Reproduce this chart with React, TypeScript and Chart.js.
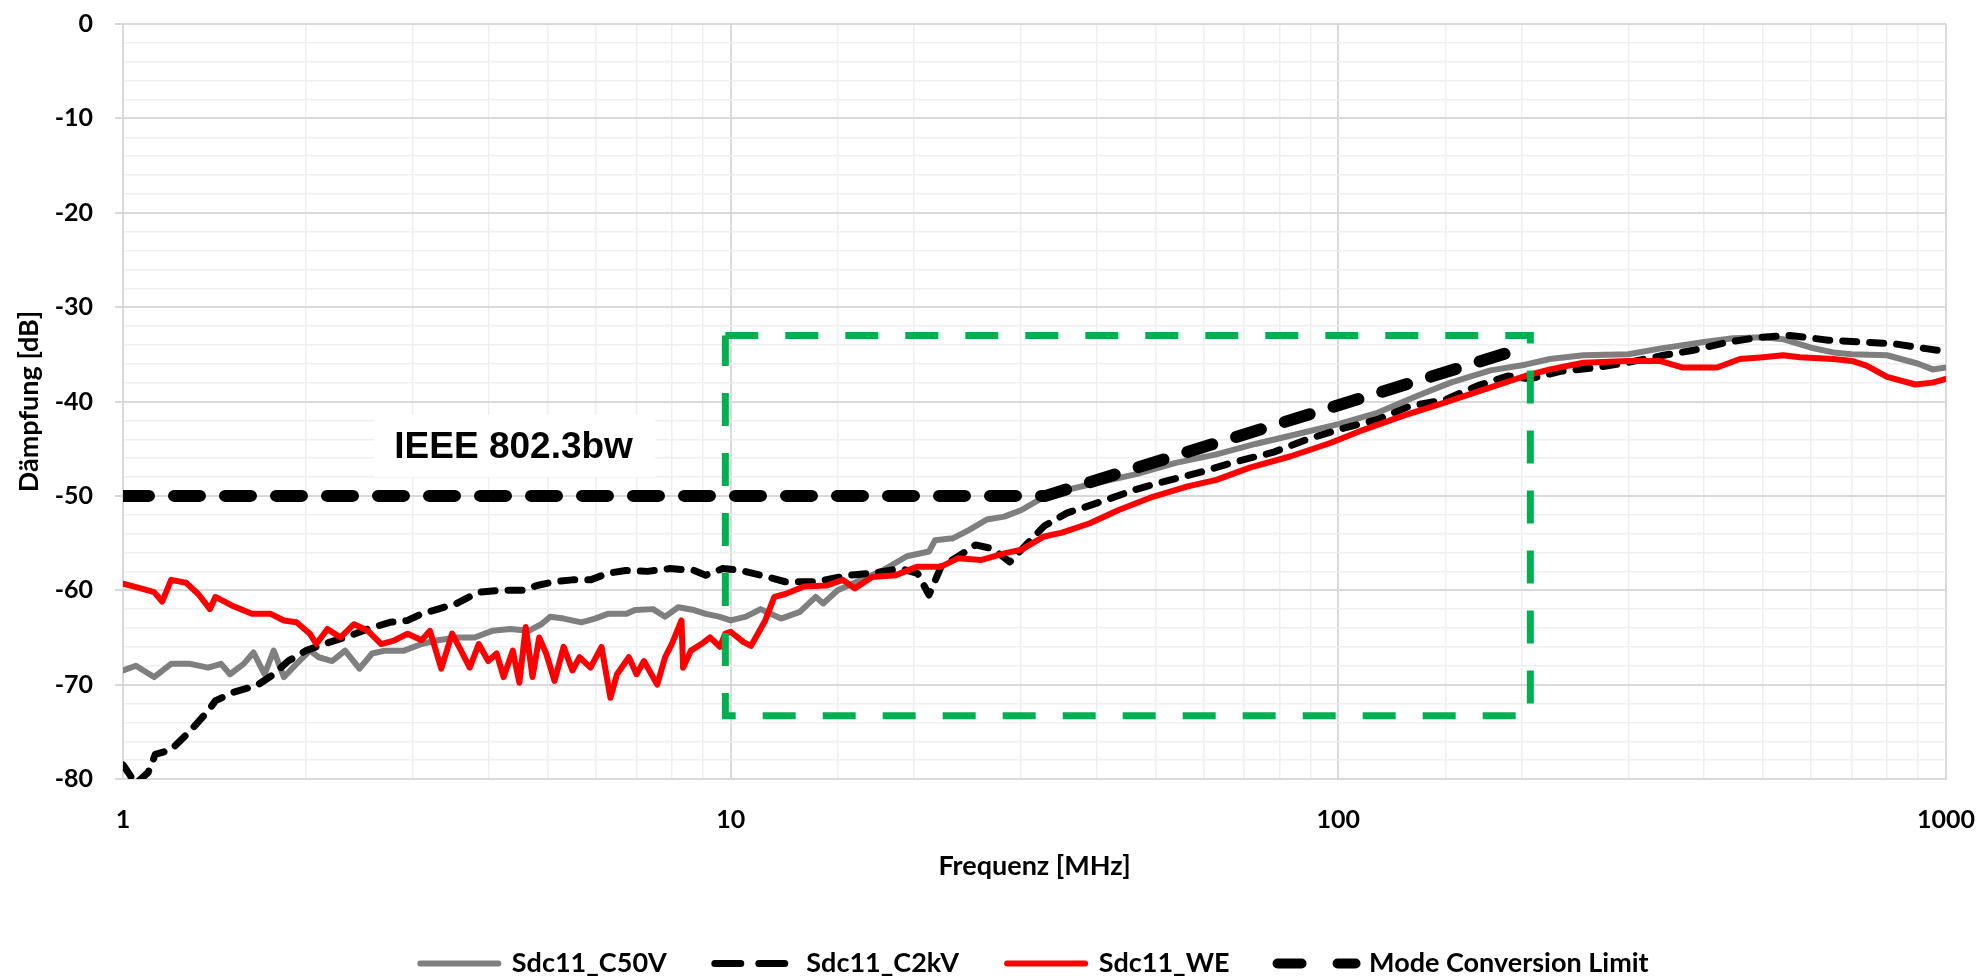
import React, { useEffect, useRef } from 'react';
import { Chart, registerables } from 'chart.js';

Chart.register(...registerables);

// ---- data (frequency in MHz, attenuation in dB) ----
const c50vFreq = [1, 1.05, 1.125, 1.2, 1.29, 1.38, 1.45, 1.5, 1.58, 1.64, 1.71, 1.77, 1.84, 1.93, 2.03, 2.1, 2.21, 2.32, 2.45, 2.57, 2.7, 2.9, 3.1, 3.3, 3.54, 3.79, 4.05, 4.34, 4.65, 4.88, 5.05, 5.31, 5.68, 5.98, 6.28, 6.74, 6.96, 7.45, 7.8, 8.2, 8.7, 9.1, 9.57, 10, 10.6, 11.2, 12.1, 13, 13.8, 14.2, 15, 16.4, 17.8, 19.5, 21.2, 21.7, 23.2, 24.7, 26.4, 28.2, 30.1, 32.8, 36.6, 40.8, 46.5, 54, 63, 73, 85, 100, 116, 135, 153, 178, 203, 223, 253, 300, 338, 400, 446, 500, 539, 600, 652, 700, 800, 900, 951, 1000];
const c50vDb = [-68.5, -68, -69.2, -67.8, -67.8, -68.2, -67.8, -68.9, -67.8, -66.6, -68.9, -66.4, -69.2, -67.8, -66.4, -67.1, -67.5, -66.4, -68.3, -66.7, -66.4, -66.4, -65.7, -65.3, -65, -65, -64.3, -64.1, -64.3, -63.6, -62.8, -63, -63.4, -63, -62.5, -62.5, -62.1, -62, -62.8, -61.8, -62.1, -62.5, -62.8, -63.2, -62.8, -62, -63, -62.3, -60.7, -61.4, -60, -58.9, -57.9, -56.4, -55.9, -54.7, -54.5, -53.6, -52.5, -52.2, -51.5, -50.1, -49.2, -48.5, -47.7, -46.5, -45.6, -44.5, -43.5, -42.4, -41.2, -39.4, -38, -36.7, -36.1, -35.5, -35.1, -35, -34.4, -33.7, -33.3, -33.2, -33.4, -34.3, -34.8, -35, -35.1, -36, -36.6, -36.4];

const c2kvFreq = [1, 1.05, 1.1, 1.13, 1.2, 1.29, 1.38, 1.42, 1.52, 1.66, 1.77, 1.87, 2.0, 2.14, 2.32, 2.53, 2.75, 2.94, 3.1, 3.3, 3.54, 3.85, 4.19, 4.56, 4.8, 5.13, 5.49, 5.88, 6.28, 6.72, 7.3, 7.95, 8.7, 9.1, 9.7, 10.4, 11.2, 12.3, 13.8, 15.7, 17.1, 19, 20.3, 21.2, 22.2, 23.7, 25.3, 27, 28.8, 30.1, 32.8, 35.8, 40.8, 46.5, 53, 60, 68.5, 78, 89, 101, 116, 131, 150, 170, 190, 207, 232, 266, 298, 343, 382, 438, 493, 553, 640, 730, 826, 927, 1000];
const c2kvDb = [-78.5, -80.5, -79.3, -77.4, -76.9, -74.9, -72.8, -71.7, -70.8, -70.1, -68.9, -67.5, -66.4, -65.7, -65, -64.1, -63.4, -63.2, -62.5, -62, -61.4, -60.2, -60, -60, -59.5, -59.1, -58.9, -58.9, -58.2, -57.9, -58, -57.7, -57.9, -58.4, -57.7, -57.9, -58.4, -59.1, -59.1, -58.4, -58.2, -57.7, -58.2, -60.5, -57.5, -56.4, -55.2, -55.6, -57, -55.7, -53.2, -51.8, -50.6, -49.3, -48.3, -47.4, -46.3, -45.4, -44, -42.9, -41.9, -40.5, -39.8, -38.3, -37.3, -37.6, -36.8, -36.4, -35.9, -35.1, -34.6, -33.7, -33.2, -33, -33.5, -33.7, -33.9, -34.4, -34.7];

const weFreq = [1, 1.07, 1.125, 1.16, 1.2, 1.27, 1.33, 1.39, 1.42, 1.52, 1.63, 1.75, 1.84, 1.93, 2.03, 2.08, 2.17, 2.28, 2.4, 2.53, 2.66, 2.8, 2.94, 3.1, 3.2, 3.34, 3.48, 3.6, 3.72, 3.85, 3.99, 4.12, 4.23, 4.38, 4.49, 4.6, 4.72, 4.84, 4.97, 5.13, 5.31, 5.49, 5.64, 5.88, 6.13, 6.34, 6.5, 6.8, 7.0, 7.2, 7.57, 7.8, 8.0, 8.3, 8.35, 8.6, 8.95, 9.25, 9.6, 9.8, 10, 10.5, 10.8, 11.4, 11.8, 12.3, 13.2, 14.4, 15.3, 16, 17.1, 18.7, 20.3, 22.2, 23.7, 25.8, 28.2, 30.1, 32.8, 35.1, 39, 43.5, 49.5, 56.5, 63, 71.5, 83.5, 97, 110, 128, 150, 178, 203, 223, 253, 300, 338, 369, 420, 458, 500, 539, 575, 652, 700, 740, 800, 890, 951, 1000];
const weDb = [-59.3, -59.8, -60.2, -61.2, -58.9, -59.2, -60.4, -62, -60.7, -61.7, -62.5, -62.5, -63.2, -63.4, -64.6, -65.7, -64.1, -65, -63.6, -64.3, -65.7, -65.3, -64.6, -65.3, -64.3, -68.3, -64.6, -66.4, -68.2, -65.7, -67.5, -66.7, -69.2, -66.4, -69.8, -63.9, -69.2, -65, -66.7, -69.6, -66, -68.5, -67.1, -68.2, -66, -71.4, -68.9, -67.1, -68.9, -67.5, -70, -67.1, -65.7, -63.2, -68.2, -66.4, -65.7, -65, -66, -64.6, -64.4, -65.5, -65.9, -63.2, -60.7, -60.4, -59.6, -59.5, -58.9, -59.8, -58.6, -58.4, -57.5, -57.5, -56.6, -56.8, -56.1, -55.7, -54.3, -53.9, -52.9, -51.5, -50.1, -49, -48.3, -47, -45.8, -44.4, -43, -41.5, -40.1, -38.5, -37.3, -36.6, -35.9, -35.7, -35.7, -36.4, -36.4, -35.5, -35.3, -35.1, -35.3, -35.5, -35.7, -36.2, -37.4, -38.2, -38, -37.6];

const limitFreq = [1, 33, 200];
const limitDb = [-50, -50, -34.4];

const boxFreq = [9.8, 207, 207, 9.8, 9.8];
const boxDb = [-33, -33, -73.3, -73.3, -33];

const xTickLabels = [1, 10, 100, 1000];
const yTickLabels = [0, -10, -20, -30, -40, -50, -60, -70, -80];

const seriesNames = ['Sdc11_C50V', 'Sdc11_C2kV', 'Sdc11_WE', 'Mode Conversion Limit'];
const legendDashes: number[][] = [[], [26, 18], [], [24, 36]];
const annotationText = 'IEEE 802.3bw';
const annotationAt = { x: 4.41, y: -44.71 };

const zip = (f: number[], d: number[]) => f.map((x, i) => ({ x, y: d[i] }));

const isDecade = (v: number) => {
  const l = Math.log10(v);
  return Math.abs(l - Math.round(l)) < 1e-6;
};

const labelPlugin = {
  id: 'ieeeLabel',
  beforeDatasetsDraw(chart: any, _args: any, opts: any) {
    const { ctx, scales } = chart;
    const cx = scales.x.getPixelForValue(opts.x);
    const cy = scales.y.getPixelForValue(opts.y);
    ctx.save();
    ctx.fillStyle = '#ffffff';
    ctx.fillRect(cx - opts.w / 2, cy - opts.h / 2, opts.w, opts.h);
    ctx.fillStyle = '#000000';
    ctx.font = opts.font;
    ctx.textAlign = 'center';
    ctx.textBaseline = 'middle';
    ctx.fillText(opts.text, cx - 1, cy + 2);
    ctx.restore();
  },
};

export default function App() {
  const ref = useRef<HTMLCanvasElement>(null);

  useEffect(() => {
    if (!ref.current) return;
    Chart.defaults.font.family = 'Lato';
    const common = { pointRadius: 0, pointHoverRadius: 0, pointHitRadius: 0, tension: 0, fill: false, clip: 0, pointStyle: 'line' as const, borderJoinStyle: 'round' as const };
    const chart = new Chart(ref.current, {
      type: 'line',
      data: {
        datasets: [
          { ...common, label: seriesNames[0], data: zip(c50vFreq, c50vDb), borderColor: '#7f7f7f', backgroundColor: '#7f7f7f', borderWidth: 6, order: 4, borderCapStyle: 'round' },
          { ...common, label: seriesNames[1], data: zip(c2kvFreq, c2kvDb), borderColor: '#000000', backgroundColor: '#000000', borderWidth: 7, borderDash: [14, 13], borderCapStyle: 'round', order: 3 },
          { ...common, label: seriesNames[2], data: zip(weFreq, weDb), borderColor: '#ff0000', backgroundColor: '#ff0000', borderWidth: 6, order: 2, borderCapStyle: 'round' },
          { ...common, label: seriesNames[3], data: zip(limitFreq, limitDb), borderColor: '#000000', backgroundColor: '#000000', borderWidth: 12, borderDash: [26, 25], borderCapStyle: 'round', order: 1 },
          { ...common, label: 'box', data: zip(boxFreq, boxDb), borderColor: '#00b050', backgroundColor: '#00b050', borderWidth: 7, borderDash: [33, 27], borderCapStyle: 'butt', borderJoinStyle: 'miter', order: 0 },
        ],
      },
      options: {
        animation: false,
        responsive: false,
        devicePixelRatio: 1,
        events: [],
        layout: { padding: { left: 0, right: 41, top: 24, bottom: -11 } },
        scales: {
          x: {
            type: 'logarithmic',
            min: 1,
            max: 1000,
            afterFit: (s: any) => { s.height = 123; s.paddingLeft = 0; s.paddingRight = 0; },
            grid: {
              drawTicks: false,
              color: (c: any) => (c.tick && isDecade(c.tick.value) ? '#d9d9d9' : '#efefef'),
              lineWidth: (c: any) => (c.tick && isDecade(c.tick.value) ? 2 : 1.5),
            },
            border: { display: true, color: '#d9d9d9', width: 2 },
            ticks: {
              autoSkip: false,
              maxRotation: 0,
              padding: 26,
              color: '#000000',
              font: { family: 'Lato', size: 25, weight: 'bold' },
              callback: (v: any) => (xTickLabels.some((t) => Math.abs(t - Number(v)) < 1e-6) ? String(Math.round(Number(v))) : ''),
            },
            title: {
              display: true,
              text: 'Frequenz [MHz]',
              color: '#000000',
              font: { family: 'Lato', size: 27, weight: 'bold' },
              padding: { top: 0, bottom: 20 },
            },
          },
          y: {
            type: 'linear',
            min: -80,
            max: 0,
            afterFit: (s: any) => { s.width = 123; s.paddingTop = 0; s.paddingBottom = 0; },
            grid: {
              drawTicks: true,
              tickLength: 8,
              color: (c: any) => (c.tick && Math.round(c.tick.value) % 10 === 0 ? '#d9d9d9' : '#efefef'),
              tickColor: (c: any) => (c.tick && Math.round(c.tick.value) % 10 === 0 ? '#d9d9d9' : 'rgba(0,0,0,0)'),
              lineWidth: (c: any) => (c.tick && Math.round(c.tick.value) % 10 === 0 ? 2 : 1.5),
            },
            border: { display: true, color: '#d9d9d9', width: 2 },
            ticks: {
              stepSize: 2,
              autoSkip: false,
              padding: 22,
              color: '#000000',
              font: { family: 'Lato', size: 25, weight: 'bold' },
              callback: (v: any) => {
                const r = Math.round(Number(v));
                return yTickLabels.includes(r) ? String(r) : '';
              },
            },
            title: {
              display: true,
              text: 'Dämpfung [dB]',
              color: '#000000',
              font: { family: 'Lato', size: 27, weight: 'bold' },
              padding: { top: 13, bottom: 0 },
            },
          },
        },
        plugins: {
          tooltip: { enabled: false },
          legend: {
            display: true,
            position: 'bottom',
            fullSize: false,
            labels: {
              usePointStyle: true,
              pointStyleWidth: 78,
              padding: 48,
              color: '#000000',
              font: { family: 'Lato', size: 27, weight: 'bold' },
              generateLabels: (ch: any) =>
                ch.data.datasets.slice(0, 4).map((ds: any, i: number) => ({
                  text: ds.label,
                  datasetIndex: i,
                  hidden: false,
                  fillStyle: ds.borderColor,
                  strokeStyle: ds.borderColor,
                  lineWidth: i === 3 ? 10 : ds.borderWidth,
                  lineDash: legendDashes[i],
                  lineCap: ds.borderCapStyle,
                  pointStyle: 'line',
                  fontColor: '#000000',
                })),
            },
          },
          ieeeLabel: {
            x: annotationAt.x,
            y: annotationAt.y,
            w: 281,
            h: 62,
            text: annotationText,
            font: 'bold 37px "Liberation Sans", Arial, sans-serif',
          },
        } as any,
      },
      plugins: [labelPlugin],
    });
    return () => chart.destroy();
  }, []);

  return (
    <div style={{ position: 'fixed', left: 0, top: 0, width: 1987, height: 976, background: '#ffffff', overflow: 'hidden' }}>
      <canvas ref={ref} width={1987} height={976} style={{ width: 1987, height: 976, display: 'block' }} />
    </div>
  );
}
